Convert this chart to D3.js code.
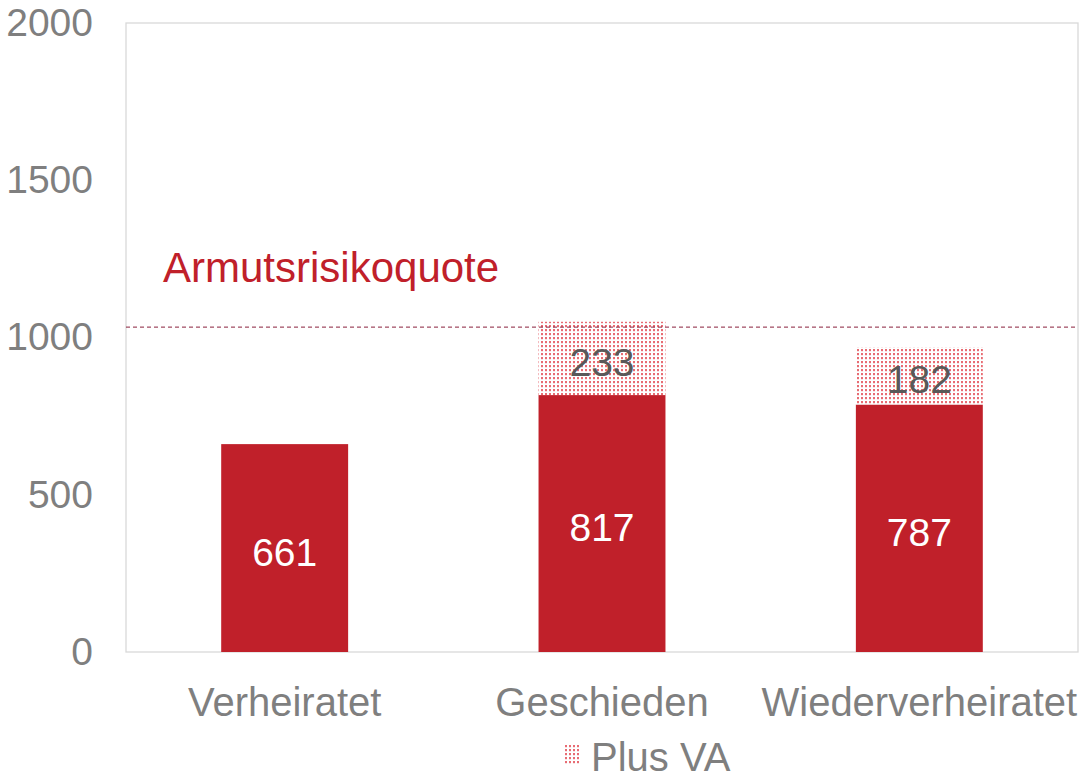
<!DOCTYPE html>
<html>
<head>
<meta charset="utf-8">
<title>Armutsrisiko</title>
<script src="https://cdn.jsdelivr.net/npm/d3@7"></script>
<style>
  body { margin: 0; background: #fff; font-family: "Liberation Sans", Arial, sans-serif; }
  .tick text { fill: #7f7f7f; }
</style>
</head>
<body>
<svg id="chart" width="1087" height="778"></svg>
<script>
  // data
  var categories = ["Verheiratet", "Geschieden", "Wiederverheiratet"];
  var baseValues = [661, 817, 787];
  var plusVA = [0, 233, 182];
  var yTicks = [0, 500, 1000, 1500, 2000];
  var threshold = 1033;
  var thresholdLabel = "Armutsrisikoquote";
  var legendLabel = "Plus VA";

  var svg = d3.select("#chart");
  var mLeft = 126, mTop = 23, mRight = 1078, mBottom = 652;
  var red = "#c0202a";
  var font = "Liberation Sans, Arial, sans-serif";

  // dotted fill for the "Plus VA" part
  var defs = svg.append("defs");
  var pat = defs.append("pattern")
    .attr("id", "dots")
    .attr("patternUnits", "userSpaceOnUse")
    .attr("width", 4).attr("height", 4);
  pat.append("rect").attr("width", 4).attr("height", 4).attr("fill", "#fff");
  pat.append("rect").attr("x", 1).attr("y", 1).attr("width", 2).attr("height", 2)
    .attr("fill", "#e03a44").attr("opacity", 0.75);
  pat.append("rect").attr("x", 1.5).attr("y", 3).attr("width", 1).attr("height", 1)
    .attr("fill", red).attr("opacity", 0.25);

  var x = d3.scaleBand().domain(categories).range([mLeft, mRight]).paddingInner(0.6).paddingOuter(0.3);
  var y = d3.scaleLinear().domain([0, 2000]).range([mBottom, mTop]);

  // plot frame
  svg.append("rect")
    .attr("x", mLeft).attr("y", mTop)
    .attr("width", mRight - mLeft).attr("height", mBottom - mTop)
    .attr("fill", "none").attr("stroke", "#d9d9d9").attr("stroke-width", 1.3);

  // y axis
  var yAxis = svg.append("g")
    .attr("transform", "translate(" + mLeft + ",0)")
    .call(d3.axisLeft(y).tickValues(yTicks).tickFormat(d3.format("d")).tickSize(0).tickPadding(33));
  yAxis.select(".domain").remove();
  yAxis.selectAll("text").attr("font-size", 39).attr("font-family", font);

  // x axis
  var xAxis = svg.append("g")
    .attr("transform", "translate(0," + mBottom + ")")
    .call(d3.axisBottom(x).tickSize(0).tickPadding(36));
  xAxis.select(".domain").remove();
  xAxis.selectAll("text").attr("font-size", 40).attr("font-family", font);

  var rows = categories.map(function(c, i) { return { cat: c, base: baseValues[i], va: plusVA[i] }; });

  // base bars
  svg.selectAll(".bar-base").data(rows).enter().append("rect")
    .attr("class", "bar-base")
    .attr("x", d => x(d.cat))
    .attr("width", x.bandwidth())
    .attr("y", d => y(d.base))
    .attr("height", d => y(0) - y(d.base))
    .attr("fill", red);

  var vaRows = rows.filter(d => d.va > 0);
  svg.selectAll(".bar-va").data(vaRows).enter().append("rect")
    .attr("class", "bar-va")
    .attr("x", d => x(d.cat))
    .attr("width", x.bandwidth())
    .attr("y", d => y(d.base + d.va))
    .attr("height", d => y(d.base) - y(d.base + d.va))
    .attr("fill", "url(#dots)");

  // value labels
  svg.selectAll(".lbl-base").data(rows).enter().append("text")
    .attr("x", d => x(d.cat) + x.bandwidth() / 2)
    .attr("y", d => (y(d.base) + y(0)) / 2)
    .attr("dy", "0.45em")
    .attr("text-anchor", "middle")
    .attr("font-size", 39)
    .attr("font-family", font)
    .attr("fill", "#fff")
    .text(d => d.base);

  svg.selectAll(".lbl-va").data(vaRows).enter().append("text")
    .attr("x", d => x(d.cat) + x.bandwidth() / 2)
    .attr("y", d => (y(d.base) + y(d.base + d.va)) / 2)
    .attr("dy", "0.45em")
    .attr("text-anchor", "middle")
    .attr("font-size", 39)
    .attr("font-family", font)
    .attr("fill", "#595959")
    .text(d => d.va);

  // threshold line
  svg.append("line")
    .attr("x1", mLeft).attr("x2", mRight)
    .attr("y1", y(threshold)).attr("y2", y(threshold))
    .attr("stroke", "#8a1f3c").attr("stroke-width", 1)
    .attr("stroke-dasharray", "4,3");

  svg.append("text")
    .attr("x", 163).attr("y", 282)
    .attr("font-size", 42)
    .attr("font-family", font)
    .attr("fill", red)
    .text(thresholdLabel);

  // legend
  svg.append("rect")
    .attr("x", 563).attr("y", 745).attr("width", 18).attr("height", 20)
    .attr("fill", "url(#dots)");
  svg.append("text")
    .attr("x", 591).attr("y", 771)
    .attr("font-size", 40)
    .attr("font-family", font)
    .attr("fill", "#7f7f7f")
    .text(legendLabel);
</script>
</body>
</html>
